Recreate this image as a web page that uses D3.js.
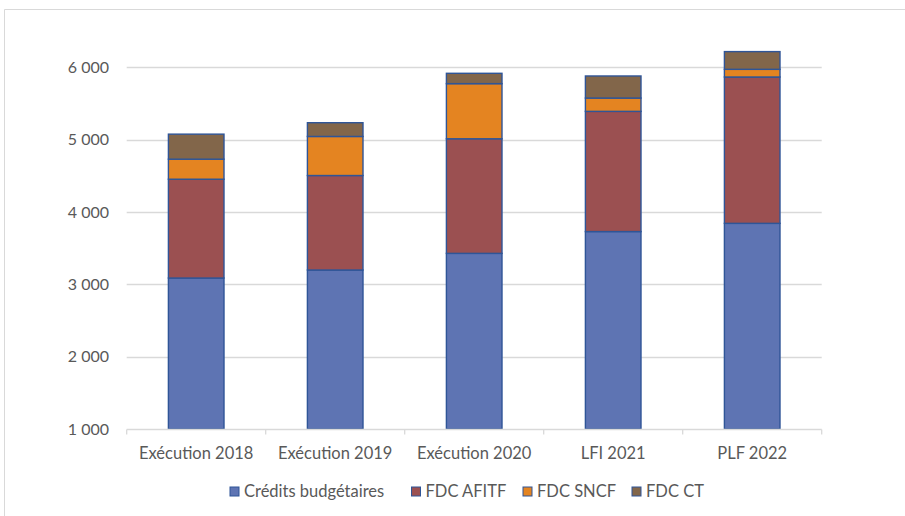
<!DOCTYPE html>
<html>
<head>
<meta charset="utf-8">
<script src="https://cdn.jsdelivr.net/npm/d3@7"></script>
<style>
  body { margin: 0; background: #fff; }
  svg { display: block; font-family: Lato, "Open Sans", sans-serif; }
</style>
</head>
<body>
<svg id="chart" width="905" height="516"></svg>
<script>
const categories = ['Exécution 2018', 'Exécution 2019', 'Exécution 2020', 'LFI 2021', 'PLF 2022'];
const seriesNames = ['Crédits budgétaires', 'FDC AFITF', 'FDC SNCF', 'FDC CT'];
const credits = [3087, 3198, 3428, 3729, 3843];
const afitf = [1366, 1306, 1584, 1662, 2023];
const sncf = [277, 540, 762, 184, 106];
const ct = [346, 190, 143, 305, 245];
const yTicks = [1000, 2000, 3000, 4000, 5000, 6000];
const colors = ['#5E74B3', '#9B5051', '#E48421', '#82664A'];

const svg = d3.select('#chart');

// outer frame of the chart area
svg.append('path')
  .attr('d', 'M4.5,516 V9.5 H905')
  .attr('fill', 'none')
  .attr('stroke', '#d9d9d9');

const margin = { left: 126.7, right: 83.3 };
const width = 905 - margin.left - margin.right;

const x = d3.scaleBand()
  .domain(categories)
  .range([margin.left, margin.left + width])
  .paddingInner(0.6)
  .paddingOuter(0.3);

const y = d3.scaleLinear()
  .domain([1000, 6000])
  .range([429, 67.3]);

// gridlines
svg.append('g')
  .selectAll('line')
  .data(yTicks.slice(1))
  .enter()
  .append('line')
  .attr('x1', margin.left)
  .attr('x2', margin.left + width)
  .attr('y1', d => Math.round(y(d)) + 0.5)
  .attr('y2', d => Math.round(y(d)) + 0.5)
  .attr('stroke', '#d9d9d9')
  .attr('stroke-width', 1.3);

// y labels
svg.append('g')
  .selectAll('text')
  .data(yTicks)
  .enter()
  .append('text')
  .attr('x', 109)
  .attr('y', d => y(d))
  .attr('dy', '0.36em')
  .attr('text-anchor', 'end')
  .attr('fill', '#595959')
  .style('font-size', '16px')
  .text(d => d3.format(',')(d).replace(',', ' '));

// stacked bars
const table = categories.map((c, i) => ({
  cat: c,
  'Crédits budgétaires': credits[i],
  'FDC AFITF': afitf[i],
  'FDC SNCF': sncf[i],
  'FDC CT': ct[i]
}));
const stacked = d3.stack().keys(seriesNames)(table);

svg.append('g')
  .selectAll('g')
  .data(stacked)
  .enter()
  .append('g')
  .attr('fill', (d, i) => colors[i])
  .selectAll('rect')
  .data(d => d)
  .enter()
  .append('rect')
  .attr('x', d => x(d.data.cat))
  .attr('width', x.bandwidth())
  .attr('y', d => y(d[1]))
  .attr('height', d => y(Math.max(d[0], 1000)) - y(d[1]))
  .attr('stroke', '#2F5597')
  .attr('stroke-width', 1.4);

// x axis line and category boundary ticks
const ax = svg.append('g')
  .attr('transform', `translate(0, ${Math.round(y(1000)) + 0.5})`);
ax.append('line')
  .attr('x1', margin.left).attr('x2', margin.left + width)
  .attr('stroke', '#d9d9d9').attr('stroke-width', 1.3);
ax.selectAll('.bound')
  .data(d3.range(categories.length + 1))
  .enter()
  .append('line')
  .attr('x1', i => margin.left + i * x.step())
  .attr('x2', i => margin.left + i * x.step())
  .attr('y1', 0)
  .attr('y2', 5)
  .attr('stroke', '#d9d9d9')
  .attr('stroke-width', 1.3);

svg.append('g')
  .selectAll('text')
  .data(categories)
  .enter()
  .append('text')
  .attr('x', d => x(d) + x.bandwidth() / 2)
  .attr('y', 459)
  .attr('text-anchor', 'middle')
  .attr('fill', '#595959')
  .style('font-size', '16.5px')
  .text(d => d);

// legend
const legendX = [230, 411.5, 523, 632];
const legend = svg.append('g')
  .selectAll('g')
  .data(seriesNames)
  .enter()
  .append('g')
  .attr('transform', (d, i) => `translate(${legendX[i]}, 487)`);

legend.append('rect')
  .attr('width', 9)
  .attr('height', 9)
  .attr('fill', (d, i) => colors[i])
  .attr('stroke', '#2F5597')
  .attr('stroke-width', 1);

legend.append('text')
  .attr('x', 14)
  .attr('y', 4.5)
  .attr('dy', '0.36em')
  .attr('fill', '#595959')
  .style('font-size', '16.5px')
  .text(d => d);
</script>
</body>
</html>
